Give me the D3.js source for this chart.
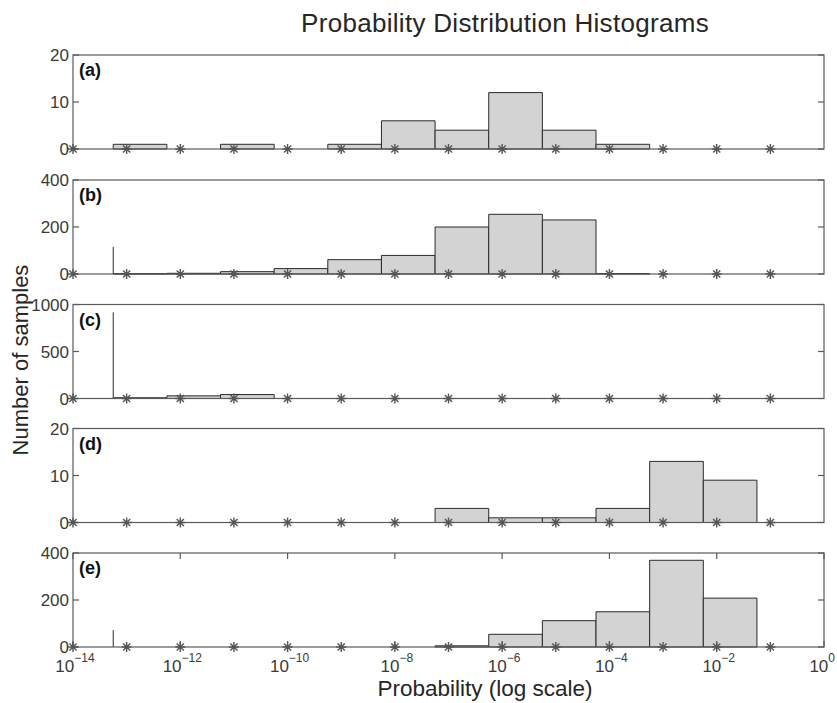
<!DOCTYPE html>
<html>
<head>
<meta charset="utf-8">
<script src="https://cdn.jsdelivr.net/npm/d3@7"></script>
<style>
  body { margin: 0; background: #fff; }
  text { font-family: "Liberation Sans", Arial, sans-serif; fill: #262626; }
</style>
</head>
<body>
<div id="chart"></div>
<script>
// panel data
const panelLabels = ["(a)", "(b)", "(c)", "(d)", "(e)"];
const yMaxes = [20, 400, 1000, 20, 400];
const yTickValues = [[0, 10, 20], [0, 200, 400], [0, 500, 1000], [0, 10, 20], [0, 200, 400]];

// left edges of the bins (log10), each bin is one decade wide
const binLeftExp = [-13.25, -12.25, -11.25, -10.25, -9.25, -8.25, -7.25, -6.25, -5.25, -4.25, -3.25, -2.25];

const countsA = [1, 0, 1, 0, 1, 6, 4, 12, 4, 1, 0, 0];
const countsB = [1, 3, 10, 23, 61, 79, 200, 254, 230, 2, 0, 0];
const countsC = [8, 28, 42, 0, 0, 0, 0, 0, 0, 0, 0, 0];
const countsD = [0, 0, 0, 0, 0, 0, 3, 1, 1, 3, 13, 9];
const countsE = [0, 0, 0, 0, 0, 0, 5, 54, 112, 150, 369, 208];
const allCounts = [countsA, countsB, countsC, countsD, countsE];

// tall spike at the lowest bin edge (zero-probability samples)
const spikeExp = -13.25;
const spikeCounts = [0, 115, 917, 0, 72];

// asterisk markers on the baseline
const starExps = [-14, -13, -12, -11, -10, -9, -8, -7, -6, -5, -4, -3, -2, -1];
const xTickExps = [-14, -12, -10, -8, -6, -4, -2, 0];

const W = 837, H = 703;
const left = 73, right = 824;
const panelTops = [55, 180, 304.5, 428.5, 553];
const panelH = 94;

const svg = d3.select("#chart").append("svg")
  .attr("width", W).attr("height", H);

const x = d3.scaleLog().domain([1e-14, 1]).range([left, right]);

const axisColor = "#5a5a5a";

// asterisk path (plus + cross)
function star(cx, cy, r) {
  const d = r * 0.72;
  return `M${cx - r},${cy}H${cx + r}M${cx},${cy - r}V${cy + r}` +
    `M${cx - d},${cy - d}L${cx + d},${cy + d}M${cx - d},${cy + d}L${cx + d},${cy - d}`;
}

panelLabels.forEach((lab, i) => {
  const top = panelTops[i];
  const y = d3.scaleLinear().domain([0, yMaxes[i]]).range([top + panelH, top]);
  const g = svg.append("g");

  // bars (empty bins are not drawn)
  g.selectAll("path.bar")
    .data(allCounts[i].map((c, k) => ({ lo: binLeftExp[k], c })).filter(d => d.c > 0))
    .enter().append("path")
    .attr("class", "bar")
    .attr("d", d => {
      const x0 = x(Math.pow(10, d.lo)), x1 = x(Math.pow(10, d.lo + 1));
      const y0 = y(0), y1 = y(d.c);
      return `M${x0},${y0}V${y1}H${x1}V${y0}Z`;
    })
    .attr("fill", "#d3d3d3")
    .attr("stroke", "#2b2b2b")
    .attr("stroke-width", 1);

  // spike
  if (spikeCounts[i] > 0) {
    const sx = x(Math.pow(10, spikeExp));
    g.append("line")
      .attr("x1", sx).attr("x2", sx)
      .attr("y1", y(0)).attr("y2", y(spikeCounts[i]))
      .attr("stroke", "#2b2b2b").attr("stroke-width", 1);
  }

  // box
  g.append("rect")
    .attr("x", left).attr("y", top)
    .attr("width", right - left).attr("height", panelH)
    .attr("fill", "none").attr("stroke", axisColor).attr("stroke-width", 1.2);

  // y ticks (both sides, inward)
  yTickValues[i].forEach(v => {
    const ty = y(v);
    g.append("line").attr("x1", left).attr("x2", left + 6).attr("y1", ty).attr("y2", ty)
      .attr("stroke", axisColor).attr("stroke-width", 1.2);
    g.append("line").attr("x1", right).attr("x2", right - 6).attr("y1", ty).attr("y2", ty)
      .attr("stroke", axisColor).attr("stroke-width", 1.2);
    g.append("text")
      .attr("x", left - 4).attr("y", ty + 6)
      .attr("text-anchor", "end")
      .style("font-size", "17px")
      .style("fill", "#3a3a3a")
      .text(v);
  });

  // x ticks only on last panel
  if (i === panelLabels.length - 1) {
    xTickExps.forEach(e => {
      const tx = x(Math.pow(10, e));
      g.append("line").attr("x1", tx).attr("x2", tx).attr("y1", top).attr("y2", top + 6)
        .attr("stroke", axisColor).attr("stroke-width", 1.2);
      g.append("line").attr("x1", tx).attr("x2", tx).attr("y1", top + panelH).attr("y2", top + panelH - 6)
        .attr("stroke", axisColor).attr("stroke-width", 1.2);
      // the last label would run past the right edge, so pin it to the edge
      const last = e === 0;
      const t = g.append("text")
        .attr("x", last ? W - 2 : tx + 2).attr("y", top + panelH + 25)
        .attr("text-anchor", last ? "end" : "middle")
        .style("fill", "#3a3a3a");
      t.append("tspan").style("font-size", "17px").text("10");
      t.append("tspan").style("font-size", "12px").attr("dy", -10).text(last ? "0" : "\u2212" + (-e));
    });
  }

  // stars
  g.selectAll("path.star")
    .data(starExps)
    .enter().append("path")
    .attr("class", "star")
    .attr("d", e => star(x(Math.pow(10, e)), y(0), 5))
    .attr("stroke", "#555")
    .attr("stroke-width", 1.4)
    .attr("fill", "none");

  // panel label
  g.append("text")
    .attr("x", left + 6).attr("y", top + 21)
    .style("font-size", "18px")
    .style("font-weight", "bold")
    .style("fill", "#111")
    .text(lab);
});

// title
svg.append("text")
  .attr("x", 505).attr("y", 32)
  .attr("text-anchor", "middle")
  .style("font-size", "26px")
  .style("letter-spacing", "0.3px")
  .text("Probability Distribution Histograms");

// axis labels
svg.append("text")
  .attr("x", 485).attr("y", 696)
  .attr("text-anchor", "middle")
  .style("font-size", "22.5px")
  .text("Probability (log scale)");

svg.append("text")
  .attr("transform", "translate(28,360) rotate(-90)")
  .attr("text-anchor", "middle")
  .style("font-size", "22px")
  .text("Number of samples");
</script>
</body>
</html>
